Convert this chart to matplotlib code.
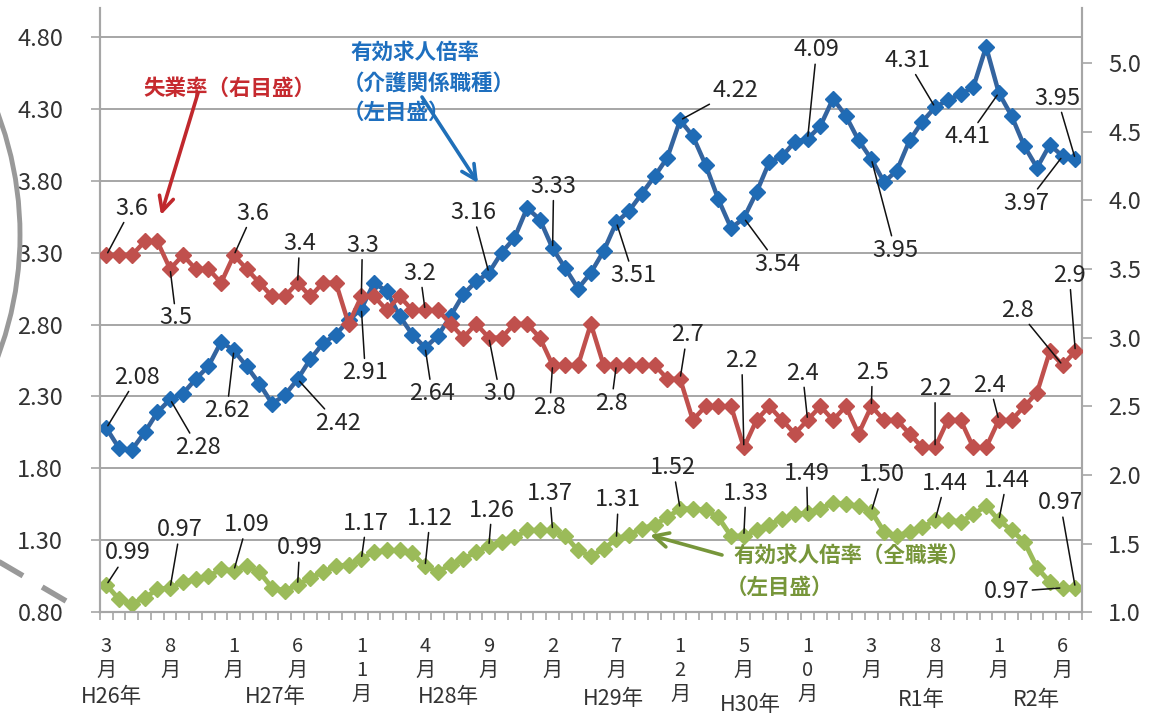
import matplotlib
matplotlib.use("Agg")
import matplotlib.pyplot as plt
from matplotlib.patches import Arc
from matplotlib.ticker import FormatStrFormatter
import numpy as np

# monthly series, H26 (2014) March .. R2 (2020) July
care_ratio = [2.08, 1.94, 1.93, 2.05, 2.19, 2.28, 2.32, 2.42, 2.51, 2.68,
              2.62, 2.51, 2.39, 2.25, 2.31, 2.42, 2.56, 2.67, 2.73, 2.83,
              2.91, 3.09, 3.03, 2.86, 2.73, 2.64, 2.72, 2.86, 3.01, 3.10,
              3.16, 3.30, 3.40, 3.61, 3.53, 3.33, 3.19, 3.05, 3.16, 3.31,
              3.51, 3.59, 3.71, 3.83, 3.96, 4.22, 4.11, 3.91, 3.67, 3.47,
              3.54, 3.72, 3.93, 3.97, 4.07, 4.09, 4.18, 4.37, 4.25, 4.08,
              3.95, 3.79, 3.87, 4.08, 4.21, 4.31, 4.36, 4.40, 4.45, 4.73,
              4.41, 4.25, 4.04, 3.89, 4.05, 3.97, 3.95]
unemployment = [3.6, 3.6, 3.6, 3.7, 3.7, 3.5, 3.6, 3.5, 3.5, 3.4,
                3.6, 3.5, 3.4, 3.3, 3.3, 3.4, 3.3, 3.4, 3.4, 3.1,
                3.3, 3.3, 3.2, 3.3, 3.2, 3.2, 3.2, 3.1, 3.0, 3.1,
                3.0, 3.0, 3.1, 3.1, 3.0, 2.8, 2.8, 2.8, 3.1, 2.8,
                2.8, 2.8, 2.8, 2.8, 2.7, 2.7, 2.4, 2.5, 2.5, 2.5,
                2.2, 2.4, 2.5, 2.4, 2.3, 2.4, 2.5, 2.4, 2.5, 2.3,
                2.5, 2.4, 2.4, 2.3, 2.2, 2.2, 2.4, 2.4, 2.2, 2.2,
                2.4, 2.4, 2.5, 2.6, 2.9, 2.8, 2.9]
all_ratio = [0.99, 0.89, 0.86, 0.90, 0.96, 0.97, 1.01, 1.03, 1.05, 1.10,
             1.09, 1.12, 1.08, 0.97, 0.95, 0.99, 1.04, 1.08, 1.12, 1.13,
             1.17, 1.22, 1.23, 1.23, 1.21, 1.12, 1.08, 1.13, 1.17, 1.22,
             1.26, 1.29, 1.32, 1.37, 1.37, 1.37, 1.33, 1.23, 1.19, 1.24,
             1.31, 1.34, 1.38, 1.41, 1.46, 1.52, 1.52, 1.51, 1.46, 1.33,
             1.33, 1.37, 1.41, 1.45, 1.48, 1.49, 1.52, 1.56, 1.55, 1.54,
             1.50, 1.36, 1.33, 1.36, 1.39, 1.44, 1.44, 1.43, 1.48, 1.54,
             1.44, 1.37, 1.29, 1.11, 1.01, 0.97, 0.97]

month_labels = ["3\n月", "8\n月", "1\n月", "6\n月", "1\n1\n月", "4\n月", "9\n月", "2\n月",
                "7\n月", "1\n2\n月", "5\n月", "1\n0\n月", "3\n月", "8\n月", "1\n月", "6\n月"]
year_labels = ["H26年", "H27年", "H28年", "H29年", "H30年", "R1年", "R2年"]

label_idx = [0, 5, 10, 15, 20, 25, 30, 35, 40, 45, 50, 55, 60, 65, 70, 75, 76]

# label offsets (pixels) from the point they belong to
care_off = [(31, 51), (28, -48), (-7, -60), (40, -44), (4, -64), (7, -46), (-16, 60), (1, 62),
            (17, -53), (55, 30), (34, -46), (9, 89), (24, -91), (-28, 47), (-31, -44),
            (-36, -47), (-18, 61)]
unemp_off = [(25, 47), (6, -49), (19, 42), (2, 39), (1, 51), (-5, 37), (11, -56), (-3, -42),
             (-5, -38), (7, 44), (-2, 87), (-5, 47), (1, 34), (0, 59), (-9, 35), (-45, 55),
             (-6, 76)]
all_off = [(21, 32), (10, 58), (13, 46), (2, 37), (5, 36), (5, 48), (3, 36), (-3, 37), (2, 39),
           (-7, 41), (2, 43), (-1, 40), (11, 37), (10, 37), (8, 40), (-56, -4), (-15, 85)]

plt.rcParams['font.family'] = ['Noto Sans CJK JP', 'DejaVu Sans']

W, H = 1162, 715
fig = plt.figure(figsize=(W / 100, H / 100), dpi=100)
ax = fig.add_axes([100 / W, 1 - 612.3 / H, 981.7 / W, 604.3 / H])
ax2 = ax.twinx()

x = np.arange(len(care_ratio))
grey = '#a6a6a6'
txt = '#333333'

ax.set_xlim(-0.5, len(x) - 0.5)
ax.set_ylim(0.8, 5.0)
ax2.set_ylim(1.0, 5.4)
ax.set_yticks(np.arange(0.8, 4.81, 0.5))
ax2.set_yticks(np.arange(1.0, 5.01, 0.5))
ax.yaxis.set_major_formatter(FormatStrFormatter('%.2f'))
ax2.yaxis.set_major_formatter(FormatStrFormatter('%.1f'))
ax.grid(axis='y', color=grey, lw=1.4)
ax.set_axisbelow(True)

for a in (ax, ax2):
    a.spines['top'].set_visible(False)
    for s in ('left', 'right', 'bottom'):
        a.spines[s].set_color(grey)
        a.spines[s].set_linewidth(1.5)
ax.tick_params(axis='y', direction='out', length=6.5, width=1.2, color=grey,
               labelsize=17, labelcolor=txt, pad=20)
ax2.tick_params(axis='y', direction='out', length=7, width=1.2, color=grey,
                labelsize=17, labelcolor=txt, pad=12)

ax.set_xticks(x[::5])
ax.set_xticklabels(month_labels, fontsize=14.5, color=txt, linespacing=1.18, va='top')
ax.set_xticks(np.arange(-0.5, len(x), 1), minor=True)
ax.tick_params(axis='x', which='major', length=0, pad=17)
ax.tick_params(axis='x', which='minor', direction='out', length=6, width=1.2, color=grey)

ax.plot(x, all_ratio, color='#9bbb59', lw=3.5, marker='D', ms=8.5,
        mfc='#9bbb59', mec='#9bbb59', zorder=3)
ax.plot(x, care_ratio, color='#34649f', lw=3.2, marker='D', ms=8,
        mfc='#1f6bb5', mec='#1f6bb5', zorder=3)
ax2.plot(x, unemployment, color='#c0504d', lw=3.2, marker='D', ms=8.5,
         mfc='#c0504d', mec='#c0504d', zorder=3)


def data_labels(a, vals, offs, fmt):
    for i, (dx, dy) in zip(label_idx, offs):
        a.annotate(fmt % vals[i], xy=(i, vals[i]), xytext=(dx, dy), textcoords='offset pixels',
                   ha='center', va='center', fontsize=17, color='#262626', zorder=6,
                   arrowprops=dict(arrowstyle='-', color='#111111', lw=1.1,
                                   shrinkA=0, shrinkB=2))


data_labels(ax, care_ratio, care_off, '%.2f')
data_labels(ax, all_ratio, all_off, '%.2f')
data_labels(ax2, unemployment, unemp_off, '%.1f')

# overlay in pixel coordinates for the notes, arrows and decorations
ov = fig.add_axes([0, 0, 1, 1], zorder=10)
ov.set_xlim(0, W)
ov.set_ylim(H, 0)
ov.axis('off')

ov.add_patch(Arc((-325, 235), 690, 690, theta1=-30, theta2=30, color='#999999', lw=3.5))
ov.plot([-4, 66], [560, 601], color='#999999', lw=4, dashes=(5, 4))

year_x = [111, 275, 448, 613, 750, 921, 1036]
year_y = [697, 697, 697, 699, 705, 700, 700]
for s, px, py in zip(year_labels, year_x, year_y):
    ov.text(px, py, s, ha='center', va='center', fontsize=15.5, color=txt)

red_c, blue_c, green_c = '#c62a2f', '#1e6fbf', '#77963a'
note = dict(ha='left', va='center', fontsize=15.5, fontweight='bold')
ov.text(143, 88, '失業率（右目盛）', color=red_c, **note)
for s, py in zip(['有効求人倍率', '（介護関係職種）', '（左目盛）'], [52, 83, 112]):
    ov.text(350 if s[0] != '（' else 343, py, s, color=blue_c, **note)
for s, py in zip(['有効求人倍率（全職業）', '（左目盛）'], [555, 587]):
    ov.text(733 if s[0] != '（' else 726, py, s, color=green_c, **note)

arrow = dict(arrowstyle='->', lw=2.6, mutation_scale=26, shrinkA=0, shrinkB=0)
ov.annotate('', xy=(161, 215), xytext=(198, 93), arrowprops=dict(arrow, color='#c0282d'))
ov.annotate('', xy=(478, 183), xytext=(422, 97), arrowprops=dict(arrow, color='#1f6fb8'))
ov.annotate('', xy=(650, 535), xytext=(722, 555), arrowprops=dict(arrow, color='#77963a'))

fig.savefig('out.png', dpi=100)
